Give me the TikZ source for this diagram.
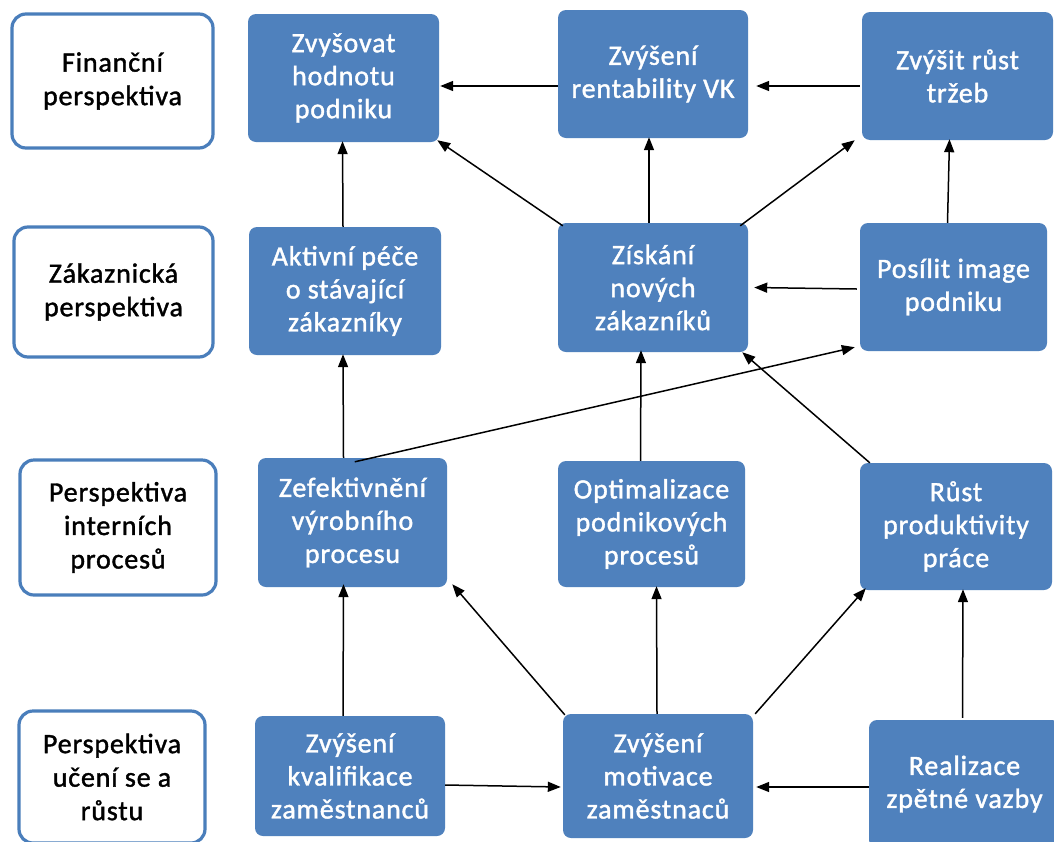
\documentclass[tikz,border=0pt]{standalone}
\usepackage{fontspec}
\setmainfont{Carlito}[FakeBold=1.4,LetterSpace=3]
\usetikzlibrary{arrows.meta}
\definecolor{boxblue}{HTML}{4F81BD}
\definecolor{edgeblue}{HTML}{4A7EBB}
\tikzset{
  goal/.style={fill=boxblue, rounded corners=8pt, inner sep=0pt, align=center,
    text=white, font=\fontsize{28}{33}\selectfont},
  layer/.style={draw=edgeblue, line width=3.2pt, fill=white, rounded corners=14pt,
    inner sep=0pt, align=center, text=black, font=\fontsize{28}{33.5}\selectfont},
  arr/.style={line width=1.5pt, -{Triangle[length=13pt,width=10pt]}},
}
% box from its corners (x1,y1) to (x2,y2), y measured downwards
\newcommand\rectnode[7]{%
  \node[#1, minimum width={(#5-#3)*1pt}, minimum height={(#6-#4)*1pt}]
    (#2) at ({(#3+#5)/2},{(#4+#6)/2}) {#7};}
\begin{document}
\begin{tikzpicture}[x=1pt,y=-1pt]
\clip (0,0) rectangle (1054,841);
\fill[white] (0,0) rectangle (1054,841);

% perspective labels
\rectnode{layer}{fin}{12}{14}{213}{148}{Finanční\\perspektiva}
\rectnode{layer}{zak}{14}{227}{213}{357}{Zákaznická\\perspektiva}
\rectnode{layer}{int}{20}{460}{216}{595}{Perspektiva\\interních\\procesů}
\rectnode{layer}{uce}{19}{711}{205}{843}{Perspektiva\\učení se a\\růstu}

% financial goals
\rectnode{goal}{hodnota}{248}{14}{439}{142}{Zvyšovat\\hodnotu\\podniku}
\rectnode{goal}{vk}{558}{10}{748}{138}{Zvýšení\\rentability VK}
\rectnode{goal}{trzby}{862}{12}{1053}{140}{Zvýšit růst\\tržeb}
% customer goals
\rectnode{goal}{pece}{249}{227}{441}{355}{Aktivní péče\\o stávající\\zákazníky}
\rectnode{goal}{zisk}{558}{223}{748}{352}{Získání\\nových\\zákazníků}
\rectnode{goal}{image}{860}{223}{1047}{351}{Posílit image\\podniku}
% internal process goals
\rectnode{goal}{zef}{258}{458}{447}{587}{Zefektivnění\\výrobního\\procesu}
\rectnode{goal}{opt}{558}{461}{745}{587}{Optimalizace\\podnikových\\procesů}
\rectnode{goal}{rust}{860}{463}{1052}{590}{Růst\\produktivity\\práce}
% learning and growth goals
\rectnode{goal}{kval}{255}{716}{445}{836}{Zvýšení\\kvalifikace\\zaměstnanců}
\rectnode{goal}{motiv}{563}{714}{753}{838}{Zvýšení\\motivace\\zaměstnaců}
\rectnode{goal}{real}{869}{720}{1060}{848}{Realizace\\zpětné vazby}

% cause and effect links
\draw[arr] ([shift={(0,12)}]vk.west) -- ([shift={(1,8)}]hodnota.east);
\draw[arr] ([shift={(-2,10)}]trzby.west) -- ([shift={(8,12)}]vk.east);
\draw[arr] ([shift={(5,3)}]zisk.north west) -- ([shift={(-2,-2)}]hodnota.south east);
\draw[arr] ([shift={(-4,0)}]zisk.north) -- ([shift={(-4,-1)}]vk.south);
\draw[arr] ([shift={(-8,3)}]zisk.north east) -- ([shift={(-7,0)}]trzby.south west);
\draw[arr] ([shift={(-6,0)}]image.north) -- ([shift={(-8,-1)}]trzby.south);
\draw[arr] ([shift={(-3,2)}]image.west) -- ([shift={(6,0)}]zisk.east);
\draw[arr] ([shift={(-2,0)}]pece.north) -- ([shift={(-1,-1)}]hodnota.south);
\draw[arr] ([shift={(-9,0)}]zef.north) -- ([shift={(-2,-1)}]pece.south);
\draw[arr] ([shift={(97,4)}]zef.north west) -- ([shift={(-5,-4)}]image.south west);
\draw[arr] ([shift={(-11,0)}]opt.north) -- ([shift={(-12,-2)}]zisk.south);
\draw[arr] ([shift={(10,0)}]rust.north west) -- ([shift={(-6,0)}]zisk.south east);
\draw[arr] ([shift={(-7,0)}]kval.north) -- ([shift={(-9,-3)}]zef.south);
\draw[arr] ([shift={(2,1)}]motiv.north west) -- ([shift={(5,-3)}]zef.south east);
\draw[arr] ([shift={(-1,0)}]motiv.north) -- ([shift={(5,-1)}]opt.south);
\draw[arr] ([shift={(2,0)}]motiv.north east) -- ([shift={(6,-2)}]rust.south west);
\draw[arr] ([shift={(-2,-2)}]real.north) -- ([shift={(7,-1)}]rust.south);
\draw[arr] ([shift={(0,9)}]kval.east) -- ([shift={(-2,11)}]kval.east -| motiv.west);
\draw[arr] ([shift={(0,3)}]real.west) -- ([shift={(3,11)}]motiv.east);
\end{tikzpicture}
\end{document}
